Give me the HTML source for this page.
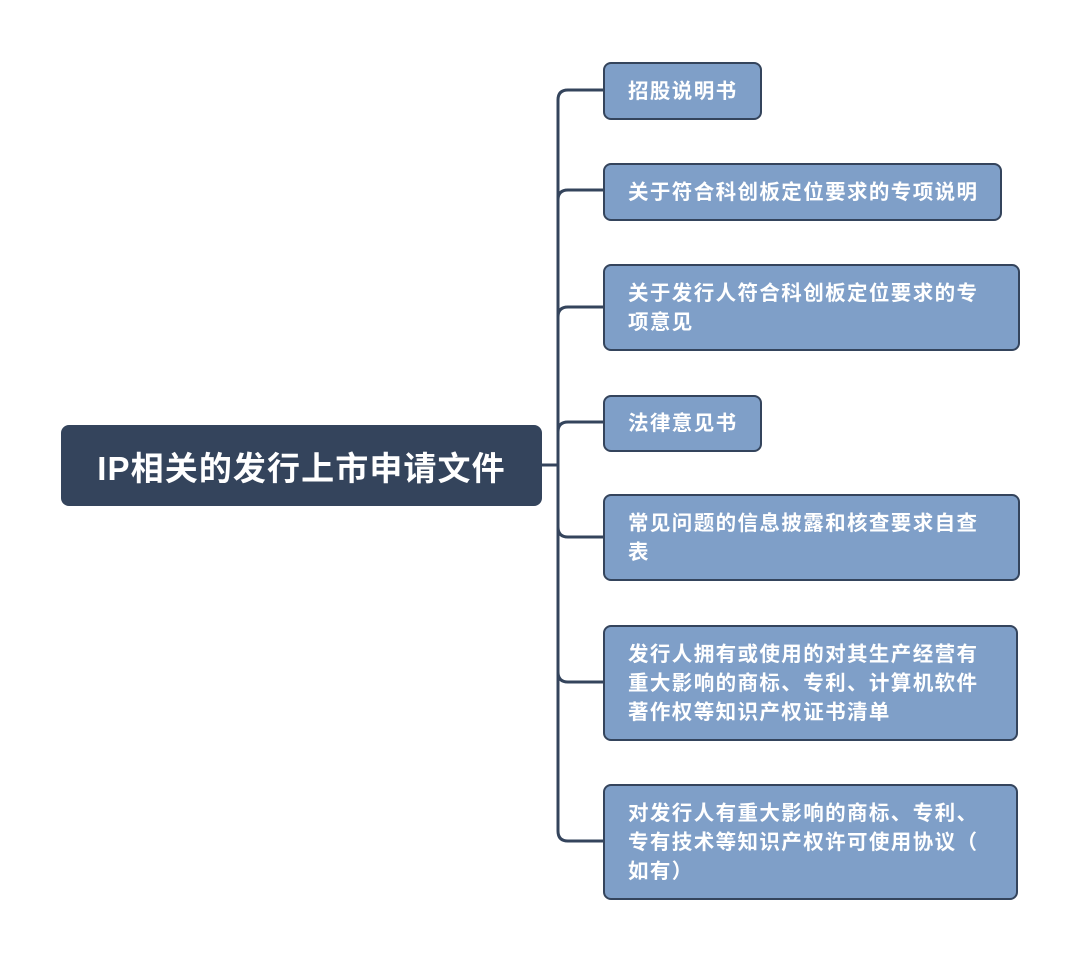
<!DOCTYPE html>
<html><head><meta charset="utf-8"><style>
body{margin:0;width:1080px;height:960px;background:#fff;position:relative;overflow:hidden;font-family:"Liberation Sans","Noto Sans CJK SC",sans-serif;}
.b{position:absolute;box-sizing:border-box;background:#7f9fc8;border:2px solid #34445c;border-radius:8px;color:#fff;font-weight:bold;font-size:20.5px;line-height:29px;padding-left:23px;white-space:nowrap;display:flex;align-items:center;letter-spacing:1.4px}
.root{position:absolute;left:61px;top:425px;width:481px;height:81px;background:#34445c;border-radius:8px;color:#fff;font-weight:bold;font-size:33px;letter-spacing:1.1px;display:flex;align-items:center;justify-content:center}
svg{position:absolute;left:0;top:0}
</style></head><body>
<svg width="1080" height="960"><g fill="none" stroke="#34445c" stroke-width="3">
<path d="M541 465H558"/>
<path d="M604 90H568Q558 90 558 100V831Q558 841 568 841H604"/>
<path d="M558 200Q558 190 568 190H604"/>
<path d="M558 317Q558 307 568 307H604"/>
<path d="M558 432Q558 422 568 422H604"/>
<path d="M558 527Q558 537 568 537H604"/>
<path d="M558 672Q558 682 568 682H604"/>
</g></svg>
<div class="root">IP相关的发行上市申请文件</div>
<div class="b" style="left:603px;top:62px;width:159px;height:58px">招股说明书</div>
<div class="b" style="left:603px;top:163px;width:399px;height:58px">关于符合科创板定位要求的专项说明</div>
<div class="b" style="left:603px;top:264px;width:417px;height:87px">关于发行人符合科创板定位要求的专<br>项意见</div>
<div class="b" style="left:603px;top:395px;width:159px;height:57px">法律意见书</div>
<div class="b" style="left:603px;top:494px;width:417px;height:87px">常见问题的信息披露和核查要求自查<br>表</div>
<div class="b" style="left:603px;top:625px;width:415px;height:116px">发行人拥有或使用的对其生产经营有<br>重大影响的商标、专利、计算机软件<br>著作权等知识产权证书清单</div>
<div class="b" style="left:603px;top:784px;width:415px;height:116px">对发行人有重大影响的商标、专利、<br>专有技术等知识产权许可使用协议（<br>如有）</div>
</body></html>
